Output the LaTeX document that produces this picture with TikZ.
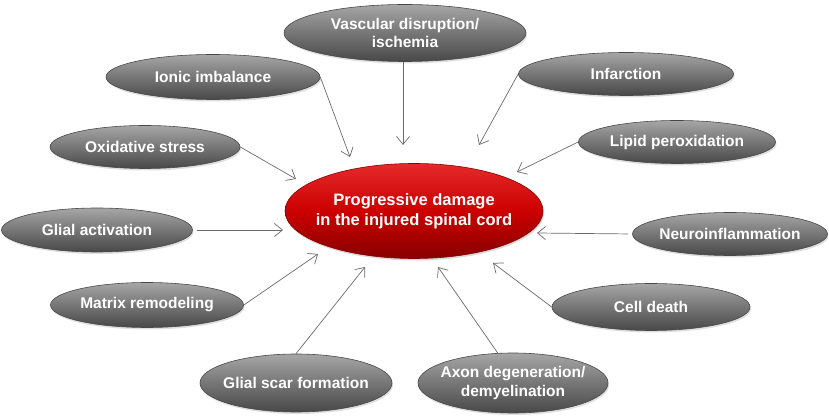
\documentclass[tikz,border=0pt]{standalone}
\usepackage{fontspec}
\setmainfont{Liberation Sans}
\usepackage{tikz}
\usetikzlibrary{shapes.geometric,arrows.meta,shadows}

\definecolor{grayhi}{HTML}{A6A6A6}
\definecolor{graymid}{HTML}{767676}
\definecolor{graylo}{HTML}{484848}
\definecolor{redhi}{HTML}{E42A2A}
\definecolor{redmid}{HTML}{CC0000}
\definecolor{redlo}{HTML}{880000}
\definecolor{arrowgray}{HTML}{6A6A6A}

\tikzset{
	cause/.style={ellipse, draw=graylo, line width=0.6pt, top color=grayhi, bottom color=graylo, middle color=graymid,
		inner sep=-14pt, text=white, align=center, font=\fontsize{15.5}{18.5}\selectfont\bfseries,
		drop shadow={opacity=0.25, shadow xshift=1pt, shadow yshift=-2pt}},
	damage/.style={ellipse, draw=redlo, line width=0.6pt, top color=redhi, bottom color=redlo, middle color=redmid,
		inner sep=-14pt, text=white, align=center, font=\fontsize{16.5}{20}\selectfont\bfseries,
		drop shadow={opacity=0.3, shadow xshift=1pt, shadow yshift=-2pt}},
	into/.style={draw=arrowgray, line width=0.7pt, -{Straight Barb[length=8pt,width=13pt]}}
}

\begin{document}
\begin{tikzpicture}[x=1pt,y=-1pt]
	\useasboundingbox (0,0) rectangle (829,419);

	% the causes
	\node[cause, minimum width=242, minimum height=57] (vasc) at (405,33) {Vascular disruption/\\ischemia};
	\node[cause, minimum width=214, minimum height=45] (ionic) at (213,77) {Ionic imbalance};
	\node[cause, minimum width=215, minimum height=43] (infarc) at (626,74) {Infarction};
	\node[cause, minimum width=190, minimum height=43] (oxid) at (145,147) {Oxidative stress};
	\node[cause, minimum width=197, minimum height=43] (lipid) at (677,142) {Lipid peroxidation};
	\node[cause, minimum width=191, minimum height=44] (glact) at (97,230) {Glial activation};
	\node[cause, minimum width=195, minimum height=43] (neuro) at (730,234) {Neuroinflammation};
	\node[cause, minimum width=193, minimum height=45] (matrix) at (147,305) {Matrix remodeling};
	\node[cause, minimum width=198, minimum height=47] (cell) at (651,307) {Cell death};
	\node[cause, minimum width=192, minimum height=58] (scar) at (296,383) {Glial scar formation};
	\node[cause, minimum width=190, minimum height=60] (axon) at (513,383) {Axon degeneration/\\demyelination};

	% the damage in the middle
	\node[damage, minimum width=258, minimum height=95] (dmg) at (414,211) {Progressive damage\\in the injured spinal cord};

	% where the arrows stop
	\coordinate (t-vasc) at (403,145);
	\coordinate (t-ionic) at (350,157);
	\coordinate (t-infarc) at (479,145);
	\coordinate (t-oxid) at (296,179);
	\coordinate (t-lipid) at (517,172);
	\coordinate (t-glact) at (283,230);
	\coordinate (t-neuro) at (537,233);
	\coordinate (t-matrix) at (318,254);
	\coordinate (t-cell) at (493,263);
	\coordinate (t-scar) at (365,267);
	\coordinate (t-axon) at (438,267);

	\draw[into] (vasc.south -| t-vasc) -- (t-vasc);
	\draw[into] (ionic.east) -- (t-ionic);
	\draw[into] (infarc.west) -- (t-infarc);
	\draw[into] (oxid.east) -- (t-oxid);
	\draw[into] (lipid.west) -- (t-lipid);
	\draw[into, shorten <=4pt] (glact.east) -- (t-glact);
	\draw[into, shorten <=4pt] (neuro.west) -- (t-neuro);
	\draw[into] (matrix.east) -- (t-matrix);
	\draw[into] (cell.west) -- (t-cell);
	\draw[into] (scar.north) -- (t-scar);
	\draw[into] (axon.117) -- (t-axon);
\end{tikzpicture}
\end{document}
